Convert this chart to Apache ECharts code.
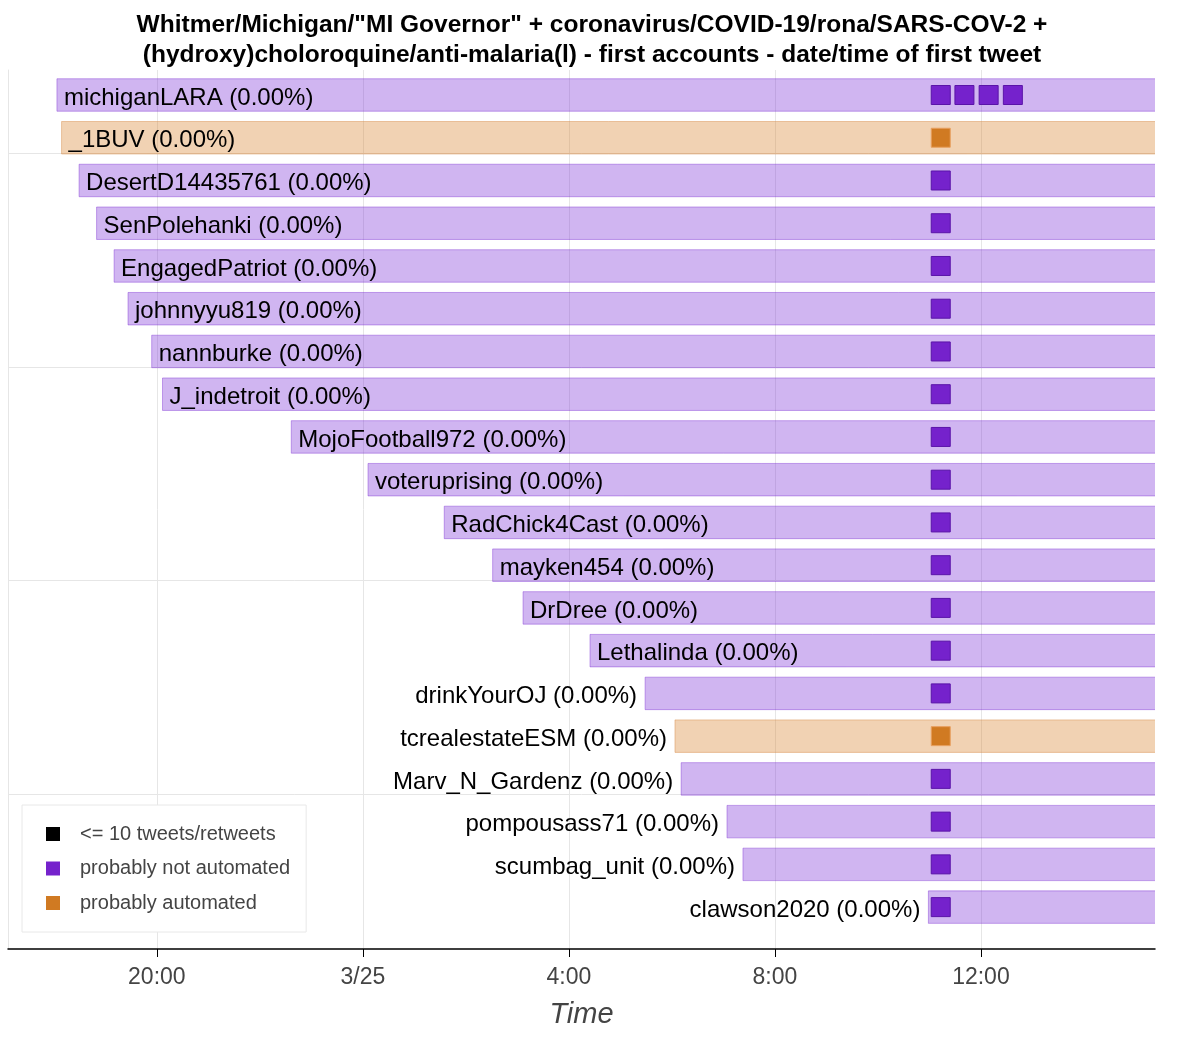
<!DOCTYPE html>
<html>
<head>
<meta charset="utf-8">
<script src="https://cdn.jsdelivr.net/npm/echarts@6/dist/echarts.min.js"></script>
<style>
  html, body { margin: 0; padding: 0; background: #fff; }
  #chart { width: 1200px; height: 1037px; }
</style>
</head>
<body>
<div id="chart"></div>
<script>
// ---- data (hours counted from 3/24 00:00) ----
const accounts = ['michiganLARA', '_1BUV', 'DesertD14435761', 'SenPolehanki', 'EngagedPatriot',
  'johnnyyu819', 'nannburke', 'J_indetroit', 'MojoFootball972', 'voteruprising',
  'RadChick4Cast', 'mayken454', 'DrDree', 'Lethalinda', 'drinkYourOJ',
  'tcrealestateESM', 'Marv_N_Gardenz', 'pompousass71', 'scumbag_unit', 'clawson2020'];
const shareOfTweets = [0, 0, 0, 0, 0, 0, 0, 0, 0, 0, 0, 0, 0, 0, 0, 0, 0, 0, 0, 0];
const probablyAutomated = [0, 1, 0, 0, 0, 0, 0, 0, 0, 0, 0, 0, 0, 0, 0, 1, 0, 0, 0, 0];
const firstTweetHour = [18.06, 18.15, 18.49, 18.83, 19.17, 19.44, 19.90, 20.11, 22.61, 24.10,
  25.58, 26.52, 27.11, 28.41, 29.48, 30.06, 30.18, 31.07, 31.38, 34.98];
const tweetHours = [[35.22, 35.68, 36.15, 36.62], [35.22], [35.22], [35.22], [35.22],
  [35.22], [35.22], [35.22], [35.22], [35.22],
  [35.22], [35.22], [35.22], [35.22], [35.22],
  [35.22], [35.22], [35.22], [35.22], [35.22]];
const windowEnd = 40;
const axisStart = 17.11, axisEnd = 39.38;
const tickHours = [20, 24, 28, 32, 36];
const tickLabels = ['20:00', '3/25', '4:00', '8:00', '12:00'];
const rowGridValues = [1.36, 6.36, 11.36, 16.36];
const legendNames = ['<= 10 tweets/retweets', 'probably not automated', 'probably automated'];

// ---- build ----
const FONT = '"Liberation Sans", Arial, Helvetica, sans-serif';
const PURPLE = '#7522CC', ORANGE = '#D07A22';
const barData = accounts.map((a, i) => [firstTweetHour[i], i, windowEnd, probablyAutomated[i], shareOfTweets[i]]);
const notAutoPts = [], autoPts = [];
tweetHours.forEach((hs, i) => hs.forEach(h => (probablyAutomated[i] ? autoPts : notAutoPts).push([h, i])));

const chart = echarts.init(document.getElementById('chart'), null, { renderer: 'canvas' });
chart.setOption({
  animation: false,
  backgroundColor: '#fff',
  title: {
    text: 'Whitmer/Michigan/"MI Governor" + coronavirus/COVID-19/rona/SARS-COV-2 +\n(hydroxy)choloroquine/anti-malaria(l) - first accounts - date/time of first tweet',
    left: 587, top: 5, textAlign: 'center',
    textStyle: { fontFamily: FONT, fontSize: 24.5, fontWeight: 'bold', color: '#000', lineHeight: 30 }
  },
  legend: {
    orient: 'vertical', left: 22, top: 805,
    data: legendNames,
    backgroundColor: '#fff', borderColor: '#e8e8e8', borderWidth: 1,
    padding: [19, 16, 19, 24], itemGap: 14.5,
    itemWidth: 14, itemHeight: 14, icon: 'rect',
    itemStyle: { borderWidth: 0 },
    textStyle: { fontFamily: FONT, fontSize: 20, color: '#444', padding: [0, 0, 0, 15] }
  },
  grid: { left: 8, right: 45, top: 70, bottom: 88, containLabel: false, outerBoundsMode: 'none' },
  xAxis: {
    type: 'value', min: axisStart, max: axisEnd,
    name: 'Time', nameLocation: 'middle', nameGap: 51,
    nameTextStyle: { fontFamily: FONT, fontSize: 29, fontStyle: 'italic', color: '#444' },
    axisLine: { show: true, onZero: false, lineStyle: { color: '#000', width: 1.5 } },
    axisTick: { show: true, length: 8, customValues: tickHours, lineStyle: { color: '#000', width: 1 } },
    axisLabel: {
      customValues: tickHours, margin: 17,
      fontFamily: FONT, fontSize: 23, color: '#444',
      formatter: v => tickLabels[tickHours.indexOf(Math.round(v))]
    },
    splitLine: { show: true, lineStyle: { color: '#e6e6e6', width: 1 } }
  },
  yAxis: {
    type: 'value', inverse: true, min: -0.585, max: 19.98,
    axisLine: { show: true, onZero: false, lineStyle: { color: '#e6e6e6', width: 1 } },
    axisTick: { show: false, customValues: rowGridValues },
    axisLabel: { show: false },
    splitLine: { show: true, lineStyle: { color: '#e6e6e6', width: 1 } }
  },
  series: [
    {
      type: 'custom', name: 'bars', clip: true, z: 2,
      data: barData,
      renderItem: function (params, api) {
        const start = api.value(0), row = api.value(1), end = api.value(2), auto = api.value(3), pct = api.value(4);
        const p0 = api.coord([start, row]);
        const p1 = api.coord([end, row]);
        const h = api.size([0, 1])[1] * 0.76;
        const cs = params.coordSys;
        const rect = echarts.graphic.clipRectByRect(
          { x: p0[0], y: p0[1] - h / 2, width: p1[0] - p0[0], height: h },
          { x: cs.x, y: cs.y, width: cs.width + 0.5, height: cs.height });
        const inside = start < 29;
        const label = accounts[params.dataIndex] + ' (' + pct.toFixed(2) + '%)';
        return {
          type: 'group',
          children: [
            {
              type: 'rect', shape: rect,
              style: auto
                ? { fill: 'rgba(217,130,43,0.36)', stroke: 'rgba(214,140,70,0.45)', lineWidth: 1 }
                : { fill: 'rgba(125,50,215,0.36)', stroke: 'rgba(120,40,210,0.40)', lineWidth: 1 }
            },
            {
              type: 'text',
              style: {
                text: label,
                x: inside ? p0[0] + 7 : p0[0] - 8,
                y: p0[1] + 3,
                align: inside ? 'left' : 'right',
                verticalAlign: 'middle',
                font: '24px ' + FONT,
                fill: '#000'
              }
            }
          ]
        };
      }
    },
    {
      type: 'scatter', name: legendNames[0], data: [],
      symbol: 'rect', symbolSize: 19, itemStyle: { color: '#000', opacity: 1 }
    },
    {
      type: 'scatter', name: legendNames[1], data: notAutoPts, z: 3,
      symbol: 'rect', symbolSize: 19,
      itemStyle: { color: PURPLE, opacity: 1, borderColor: '#5a14a8', borderWidth: 1 }
    },
    {
      type: 'scatter', name: legendNames[2], data: autoPts, z: 3,
      symbol: 'rect', symbolSize: 19,
      itemStyle: { color: ORANGE, opacity: 1, borderColor: '#e8a060', borderWidth: 1 }
    }
  ]
});
</script>
</body>
</html>
